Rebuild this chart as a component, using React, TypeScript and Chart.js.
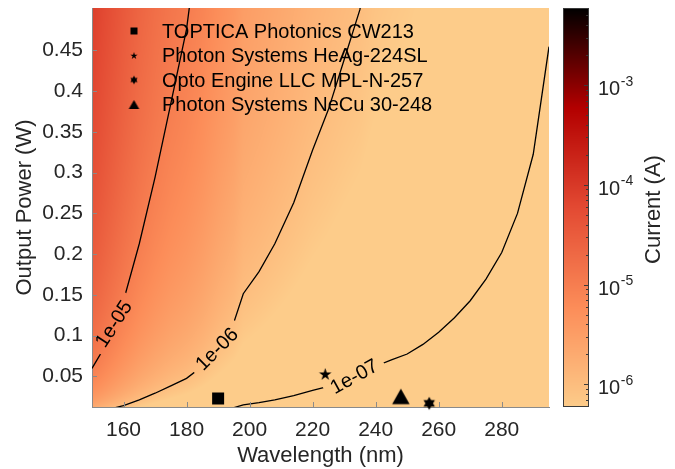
import React, { useEffect, useRef } from 'react';
import { Chart, registerables } from 'chart.js';

Chart.register(...registerables);

// ---------- data ----------
// photocathode responsivity (A/W) sampled at wavelengths (nm)
const wavelengths = [150, 155, 160, 165, 170, 175, 180, 185, 190, 195, 198, 203, 208, 214, 220, 225, 230, 235, 240, 245, 250, 255, 260, 265, 270, 275, 280, 285, 290, 295];
const responsivity = [1.67e-4, 1.08e-4, 7.0e-5, 4.7e-5, 3.4e-5, 2.6e-5, 2.1e-5, 1.6e-5, 1.15e-5, 8.6e-6, 6.6e-6, 5.6e-6, 4.7e-6, 3.8e-6, 3.05e-6, 2.65e-6, 2.28e-6, 2.0e-6, 1.6e-6, 1.42e-6, 1.29e-6, 1.12e-6, 9.6e-7, 8.2e-7, 7.0e-7, 5.9e-7, 4.95e-7, 4.0e-7, 3.1e-7, 2.2e-7];

const contourLevels = [1e-5, 1e-6, 1e-7];
const contourLabels = ['1e-05', '1e-06', '1e-07'];
const contourLabelWavelengths = [157.1, 189.8, 233.3];
const contourLabelPowers = [0.114, 0.083, 0.049];
const contourLabelAngles = [-57, -45, -29];

const deviceNames = ['TOPTICA Photonics CW213', 'Photon Systems HeAg-224SL', 'Opto Engine LLC MPL-N-257', 'Photon Systems NeCu 30-248'];
const deviceWavelengths = [190, 224, 257, 248];
const devicePowers = [0.023, 0.053, 0.017, 0.0255];
const deviceShapes = ['square', 'star', 'hexagram', 'triangle'];

const xTicks = [160, 180, 200, 220, 240, 260, 280];
const yTicks = [0.05, 0.1, 0.15, 0.2, 0.25, 0.3, 0.35, 0.4, 0.45];
const colorTicks = [1e-6, 1e-5, 1e-4, 1e-3];
const colorTickExponents = ['-6', '-5', '-4', '-3'];
const colorMin = 5.93e-7;
const colorMax = 5.93e-3;
const colorStops = ['#fdcc8a', '#fc8d59', '#e34a33', '#b30000', '#000000'];

// ---------- styling ----------
const FONT = "'Liberation Sans', Arial, Helvetica, sans-serif";
const TEXT = '#262626';
const AXIS = '#8a8a8a';

const stopRGB = colorStops.map((h) => [parseInt(h.slice(1, 3), 16), parseInt(h.slice(3, 5), 16), parseInt(h.slice(5, 7), 16)]);
function cmap(t: number): number[] {
  const tt = Math.max(0, Math.min(1, t)) * (stopRGB.length - 1);
  const i = Math.min(stopRGB.length - 2, Math.floor(tt));
  const f = tt - i;
  const a = stopRGB[i], b = stopRGB[i + 1];
  return [a[0] + (b[0] - a[0]) * f, a[1] + (b[1] - a[1]) * f, a[2] + (b[2] - a[2]) * f];
}

const logR = responsivity.map((r) => Math.log10(r));
function logRAt(lam: number): number {
  const n = wavelengths.length;
  if (lam <= wavelengths[0]) return logR[0];
  if (lam >= wavelengths[n - 1]) return logR[n - 1];
  let i = 0;
  while (i < n - 2 && wavelengths[i + 1] < lam) i++;
  const f = (lam - wavelengths[i]) / (wavelengths[i + 1] - wavelengths[i]);
  return logR[i] + (logR[i + 1] - logR[i]) * f;
}

function makeMarker(shape: string, w: number, h: number): HTMLCanvasElement {
  const c = document.createElement('canvas');
  c.width = Math.ceil(w) + 2;
  c.height = Math.ceil(h) + 2;
  const g = c.getContext('2d')!;
  g.fillStyle = '#000';
  g.translate(c.width / 2, c.height / 2);
  g.beginPath();
  if (shape === 'square') {
    g.rect(-w / 2, -h / 2, w, h);
  } else if (shape === 'star') {
    const R = h / 1.809;
    const r = R * 0.382;
    const dy = R - h / 2; // shift so the bounding box is centred
    for (let k = 0; k < 10; k++) {
      const ang = -Math.PI / 2 + (k * Math.PI) / 5;
      const rr = k % 2 === 0 ? R : r;
      const x = Math.cos(ang) * rr, y = Math.sin(ang) * rr + dy;
      if (k === 0) g.moveTo(x, y); else g.lineTo(x, y);
    }
  } else if (shape === 'hexagram') {
    const R = h / 2;
    for (let t = 0; t < 2; t++) {
      for (let k = 0; k < 3; k++) {
        const ang = (t === 0 ? -Math.PI / 2 : Math.PI / 2) + (k * 2 * Math.PI) / 3;
        const x = Math.cos(ang) * R, y = Math.sin(ang) * R;
        if (k === 0) g.moveTo(x, y); else g.lineTo(x, y);
      }
      g.closePath();
    }
  } else {
    g.moveTo(0, -h / 2);
    g.lineTo(w / 2, h / 2);
    g.lineTo(-w / 2, h / 2);
  }
  g.closePath();
  g.fill('nonzero');
  return c;
}

export default function App() {
  const ref = useRef<HTMLCanvasElement>(null);

  useEffect(() => {
    const canvas = ref.current!;
    const plotMarkers = [
      makeMarker('square', 12, 12),
      makeMarker('star', 12.4, 11.8),
      makeMarker('hexagram', 11.6, 13.2),
      makeMarker('triangle', 17.5, 15.5),
    ];
    const legendMarkers = [
      makeMarker('square', 7, 7),
      makeMarker('star', 7.2, 6.9),
      makeMarker('hexagram', 7.4, 8.4),
      makeMarker('triangle', 10.5, 9),
    ];

    const heatmapPlugin = {
      id: 'heatmap',
      beforeDraw(chart: any) {
        const { ctx, chartArea: a, scales } = chart;
        const xs = scales.x, ys = scales.y;
        const x0 = Math.round(a.left), x1 = Math.round(a.right);
        const y0 = Math.round(a.top), y1 = Math.round(a.bottom);
        const w = x1 - x0, h = y1 - y0;
        const img = ctx.createImageData(w, h);
        const cols = new Float64Array(w);
        for (let i = 0; i < w; i++) cols[i] = logRAt(xs.getValueForPixel(x0 + i + 0.5));
        const rows = new Float64Array(h);
        for (let j = 0; j < h; j++) rows[j] = Math.log10(Math.max(1e-9, ys.getValueForPixel(y0 + j + 0.5)));
        const lmin = Math.log10(colorMin), lmax = Math.log10(colorMax);
        for (let j = 0; j < h; j++) {
          for (let i = 0; i < w; i++) {
            const t = (rows[j] + cols[i] - lmin) / (lmax - lmin);
            const c = cmap(t);
            const k = (j * w + i) * 4;
            img.data[k] = c[0];
            img.data[k + 1] = c[1];
            img.data[k + 2] = c[2];
            img.data[k + 3] = 255;
          }
        }
        ctx.putImageData(img, x0, y0);
      },
    };

    function labelGeom(chart: any, i: number) {
      const { ctx, scales } = chart;
      ctx.save();
      ctx.font = `20px ${FONT}`;
      const tw = ctx.measureText(contourLabels[i]).width;
      ctx.restore();
      return {
        x: scales.x.getPixelForValue(contourLabelWavelengths[i]),
        y: scales.y.getPixelForValue(contourLabelPowers[i]),
        a: (contourLabelAngles[i] * Math.PI) / 180,
        w: tw + 14,
        h: 20,
      };
    }

    const contourPlugin = {
      id: 'contourLabels',
      beforeDatasetDraw(chart: any, args: any) {
        const i = args.index;
        if (i >= contourLevels.length) return;
        const { ctx } = chart;
        const g = labelGeom(chart, i);
        ctx.save();
        ctx.beginPath();
        ctx.rect(0, 0, chart.width, chart.height);
        const pts = [[-g.w / 2, -g.h / 2], [g.w / 2, -g.h / 2], [g.w / 2, g.h / 2], [-g.w / 2, g.h / 2]];
        pts.forEach(([px, py], k) => {
          const X = g.x + px * Math.cos(g.a) - py * Math.sin(g.a);
          const Y = g.y + px * Math.sin(g.a) + py * Math.cos(g.a);
          if (k === 0) ctx.moveTo(X, Y); else ctx.lineTo(X, Y);
        });
        ctx.closePath();
        ctx.clip('evenodd');
      },
      afterDatasetDraw(chart: any, args: any) {
        if (args.index >= contourLevels.length) return;
        chart.ctx.restore();
      },
      afterDatasetsDraw(chart: any) {
        const { ctx } = chart;
        for (let i = 0; i < contourLevels.length; i++) {
          const g = labelGeom(chart, i);
          ctx.save();
          ctx.translate(g.x, g.y);
          ctx.rotate(g.a);
          ctx.font = `20px ${FONT}`;
          ctx.fillStyle = '#000';
          ctx.textAlign = 'center';
          ctx.textBaseline = 'middle';
          ctx.fillText(contourLabels[i], 0, 0);
          ctx.restore();
        }
      },
    };

    const decorPlugin = {
      id: 'decor',
      afterDraw(chart: any) {
        const { ctx, chartArea: a, scales } = chart;
        // inward tick marks
        ctx.save();
        ctx.strokeStyle = AXIS;
        ctx.lineWidth = 1;
        ctx.beginPath();
        xTicks.forEach((v) => {
          const px = Math.round(scales.x.getPixelForValue(v)) + 0.5;
          ctx.moveTo(px, a.bottom);
          ctx.lineTo(px, a.bottom - 5);
        });
        yTicks.forEach((v) => {
          const py = Math.round(scales.y.getPixelForValue(v)) + 0.5;
          ctx.moveTo(a.left, py);
          ctx.lineTo(a.left + 5, py);
        });
        ctx.stroke();
        ctx.restore();

        // legend
        ctx.save();
        ctx.font = `20px ${FONT}`;
        ctx.fillStyle = '#000';
        ctx.textBaseline = 'middle';
        ctx.textAlign = 'left';
        deviceNames.forEach((name, i) => {
          const cy = 31 + i * 24.5;
          const m = legendMarkers[i];
          ctx.drawImage(m, 134 - m.width / 2, cy - m.height / 2);
          ctx.fillText(name, 162, cy + 1);
        });
        ctx.restore();

        // colorbar
        const cs = scales.c;
        const cx0 = 563, cx1 = 589;
        const top = cs.getPixelForValue(colorMax);
        const bot = cs.getPixelForValue(colorMin);
        const lmin = Math.log10(colorMin), lmax = Math.log10(colorMax);
        ctx.save();
        for (let py = Math.floor(top); py < Math.ceil(bot); py++) {
          const v = cs.getValueForPixel(py + 0.5);
          const c = cmap((Math.log10(v) - lmin) / (lmax - lmin));
          ctx.fillStyle = `rgb(${c[0] | 0},${c[1] | 0},${c[2] | 0})`;
          ctx.fillRect(cx0, py, cx1 - cx0, 1);
        }
        ctx.strokeStyle = '#3a3a3a';
        ctx.lineWidth = 1;
        ctx.strokeRect(cx0 + 0.5, Math.round(top) + 0.5, cx1 - cx0 - 1, Math.round(bot) - Math.round(top) - 1);
        // colorbar ticks (right edge, inward)
        ctx.beginPath();
        for (let e = -7; e <= -2; e++) {
          for (let k = 1; k <= 9; k++) {
            const v = k * Math.pow(10, e);
            if (v < colorMin || v > colorMax) continue;
            const py = Math.round(cs.getPixelForValue(v)) + 0.5;
            const len = k === 1 ? 5 : 3;
            ctx.moveTo(cx1, py);
            ctx.lineTo(cx1 - len, py);
          }
        }
        ctx.stroke();
        // colorbar labels
        ctx.fillStyle = TEXT;
        ctx.textAlign = 'left';
        ctx.textBaseline = 'alphabetic';
        colorTicks.forEach((v, i) => {
          const py = cs.getPixelForValue(v);
          ctx.font = `20px ${FONT}`;
          ctx.fillText('10', 598, py + 10);
          const w10 = ctx.measureText('10').width;
          ctx.font = `14px ${FONT}`;
          ctx.fillText(colorTickExponents[i], 598 + w10 + 0.5, py + 0.5);
        });
        ctx.translate(654, (top + bot) / 2 + 2);
        ctx.rotate(-Math.PI / 2);
        ctx.font = `22px ${FONT}`;
        ctx.textAlign = 'center';
        ctx.textBaseline = 'middle';
        ctx.fillText('Current (A)', 0, 0);
        ctx.restore();
      },
    };

    const datasets: any[] = [
      ...contourLevels.map((lvl, i) => ({
        type: 'line',
        label: contourLabels[i],
        data: wavelengths.map((w, k) => ({ x: w, y: lvl / responsivity[k] })),
        borderColor: '#000',
        borderWidth: 1.3,
        pointRadius: 0,
        tension: 0,
        fill: false,
        order: 1,
      })),
      ...deviceNames.map((name, i) => ({
        type: 'scatter',
        label: name,
        data: [{ x: deviceWavelengths[i], y: devicePowers[i] }],
        pointStyle: plotMarkers[i],
        pointRadius: 7,
        backgroundColor: '#000',
        borderColor: '#000',
        clip: false,
        order: 0,
      })),
    ];

    const chart = new Chart(canvas, {
      type: 'scatter',
      data: { datasets },
      options: {
        animation: false,
        responsive: false,
        devicePixelRatio: 1,
        events: [],
        layout: { padding: { top: 4, right: 126, bottom: 0, left: 0 } },
        plugins: { legend: { display: false }, tooltip: { enabled: false } },
        scales: {
          x: {
            type: 'linear',
            min: 150,
            max: 295,
            afterFit: (s: any) => { s.height = 62; s.paddingLeft = 0; s.paddingRight = 0; },
            afterBuildTicks: (s: any) => { s.ticks = xTicks.map((v) => ({ value: v })); },
            grid: { display: false, drawTicks: false, tickLength: 0 },
            border: { display: true, color: AXIS, width: 1 },
            ticks: { color: TEXT, font: { family: FONT, size: 21 }, padding: 11, maxRotation: 0, autoSkip: false, callback: (v: any) => String(v) },
            title: { display: true, text: 'Wavelength (nm)', color: TEXT, font: { family: FONT, size: 22 }, padding: { top: 0, bottom: 0 } },
          },
          y: {
            type: 'linear',
            min: 0.0125,
            max: 0.502,
            afterFit: (s: any) => { s.width = 92; s.paddingTop = 0; s.paddingBottom = 0; },
            afterBuildTicks: (s: any) => { s.ticks = yTicks.map((v) => ({ value: v })); },
            grid: { display: false, drawTicks: false, tickLength: 0 },
            border: { display: true, color: AXIS, width: 1 },
            ticks: { color: TEXT, font: { family: FONT, size: 21 }, padding: 9, autoSkip: false, callback: (v: any) => String(+Number(v).toFixed(2)) },
            title: { display: true, text: 'Output Power (W)', color: TEXT, font: { family: FONT, size: 22 }, padding: { top: 12, bottom: 0 } },
          },
          c: {
            type: 'logarithmic',
            axis: 'y',
            position: 'right',
            display: false,
            min: colorMin,
            max: colorMax,
            afterFit: (s: any) => { s.paddingTop = 0; s.paddingBottom = 0; },
          },
        },
      } as any,
      plugins: [heatmapPlugin, contourPlugin, decorPlugin],
    });
    return () => chart.destroy();
  }, []);

  return (
    <div style={{ position: 'fixed', left: 0, top: 0, width: 675, height: 469, background: '#fff' }}>
      <canvas ref={ref} width={675} height={469} />
    </div>
  );
}
